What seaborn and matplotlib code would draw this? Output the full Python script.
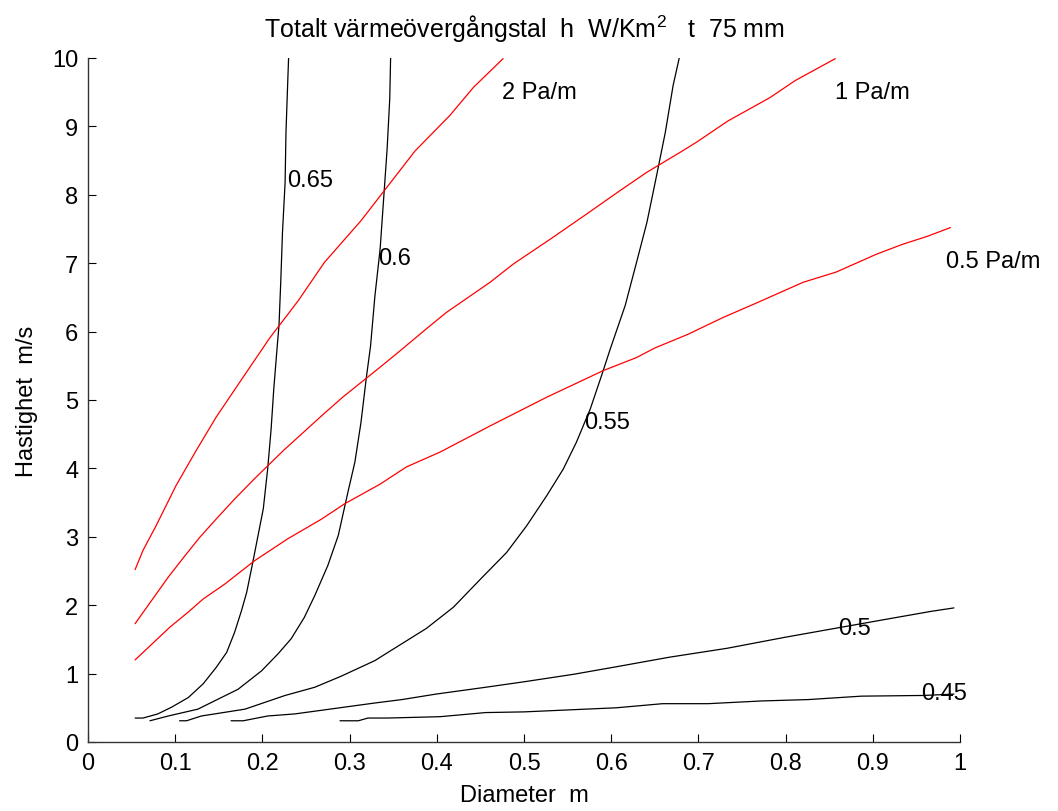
import numpy as np
import pandas as pd
import matplotlib
matplotlib.use("Agg")
import matplotlib.pyplot as plt
import seaborn as sns

# Pressure-drop lines (velocity vs. duct diameter)
d_2pa = [0.054, 0.063, 0.078, 0.101, 0.124, 0.147, 0.174, 0.208, 0.241, 0.271, 0.313, 0.344, 0.375, 0.415, 0.442, 0.476]
v_2pa = [2.52, 2.80, 3.16, 3.75, 4.26, 4.75, 5.26, 5.90, 6.45, 7.01, 7.62, 8.13, 8.64, 9.16, 9.57, 9.99]

d_1pa = [0.054, 0.073, 0.092, 0.111, 0.128, 0.147, 0.168, 0.191, 0.224, 0.268, 0.292, 0.335, 0.358, 0.388,
         0.411, 0.461, 0.488, 0.530, 0.572, 0.610, 0.641, 0.679, 0.698, 0.734, 0.782, 0.811, 0.857]
v_1pa = [1.73, 2.07, 2.41, 2.72, 2.99, 3.26, 3.55, 3.85, 4.26, 4.77, 5.04, 5.48, 5.72, 6.04,
         6.28, 6.72, 6.99, 7.35, 7.72, 8.06, 8.33, 8.62, 8.77, 9.08, 9.42, 9.67, 9.99]

d_05pa = [0.054, 0.094, 0.115, 0.132, 0.157, 0.191, 0.229, 0.268, 0.294, 0.335, 0.365, 0.404, 0.461,
          0.526, 0.591, 0.629, 0.650, 0.688, 0.729, 0.767, 0.820, 0.858, 0.904, 0.935, 0.962, 0.989]
v_05pa = [1.20, 1.68, 1.90, 2.09, 2.31, 2.65, 2.97, 3.26, 3.48, 3.77, 4.02, 4.24, 4.62,
          5.04, 5.43, 5.62, 5.76, 5.96, 6.21, 6.42, 6.72, 6.87, 7.13, 7.28, 7.39, 7.52]

# Iso-lines of the total heat transfer coefficient h
d_h065 = [0.054, 0.063, 0.080, 0.096, 0.115, 0.132, 0.147, 0.159, 0.168, 0.176, 0.182, 0.189, 0.195,
          0.201, 0.206, 0.210, 0.213, 0.217, 0.219, 0.221, 0.223, 0.226, 0.227, 0.229, 0.230]
v_h065 = [0.35, 0.35, 0.41, 0.51, 0.65, 0.85, 1.09, 1.31, 1.60, 1.92, 2.19, 2.63, 3.02,
          3.41, 3.99, 4.58, 5.16, 5.79, 6.09, 6.72, 7.45, 8.18, 8.91, 9.64, 10.0]

d_h060 = [0.071, 0.092, 0.126, 0.145, 0.172, 0.199, 0.218, 0.233, 0.248, 0.260, 0.275, 0.287, 0.298,
          0.306, 0.313, 0.319, 0.324, 0.329, 0.335, 0.339, 0.343, 0.346, 0.347]
v_h060 = [0.31, 0.38, 0.48, 0.60, 0.77, 1.04, 1.29, 1.51, 1.82, 2.14, 2.58, 3.02, 3.65,
          4.09, 4.67, 5.31, 5.79, 6.52, 7.21, 7.94, 8.67, 9.40, 10.0]

d_h055 = [0.105, 0.113, 0.130, 0.180, 0.226, 0.260, 0.290, 0.329, 0.344, 0.388, 0.419, 0.450, 0.480,
          0.503, 0.526, 0.545, 0.560, 0.576, 0.589, 0.599, 0.616, 0.629, 0.641, 0.652, 0.662, 0.671, 0.678]
v_h055 = [0.31, 0.31, 0.38, 0.48, 0.68, 0.80, 0.96, 1.19, 1.31, 1.66, 1.97, 2.38, 2.77,
          3.16, 3.60, 3.99, 4.38, 4.87, 5.36, 5.75, 6.38, 7.01, 7.60, 8.28, 8.91, 9.60, 10.0]

d_h050 = [0.164, 0.178, 0.206, 0.237, 0.283, 0.329, 0.360, 0.399, 0.456, 0.500, 0.557, 0.606, 0.667,
          0.733, 0.799, 0.843, 0.918, 0.967, 0.993]
v_h050 = [0.31, 0.31, 0.38, 0.41, 0.49, 0.57, 0.62, 0.70, 0.80, 0.88, 0.99, 1.10, 1.24,
          1.37, 1.53, 1.63, 1.80, 1.91, 1.96]

d_h045 = [0.289, 0.310, 0.321, 0.344, 0.404, 0.456, 0.500, 0.553, 0.606, 0.659, 0.711, 0.773, 0.826,
          0.887, 0.958, 0.993]
v_h045 = [0.31, 0.31, 0.35, 0.35, 0.37, 0.43, 0.44, 0.47, 0.50, 0.56, 0.56, 0.60, 0.62,
          0.67, 0.68, 0.70]

pressure_names = ["2 Pa/m", "1 Pa/m", "0.5 Pa/m"]
h_names = ["0.65", "0.6", "0.55", "0.5", "0.45"]

x_ticks = [0, 0.1, 0.2, 0.3, 0.4, 0.5, 0.6, 0.7, 0.8, 0.9, 1]
x_tick_labels = ["0", "0.1", "0.2", "0.3", "0.4", "0.5", "0.6", "0.7", "0.8", "0.9", "1"]
y_ticks = list(range(0, 11))

sns.set_style("white")
plt.rcParams["font.family"] = ["Liberation Sans", "DejaVu Sans"]
plt.rcParams["mathtext.default"] = "regular"
plt.rcParams["text.color"] = "black"
plt.rcParams["axes.labelcolor"] = "black"

def frame(name, d, v):
    return pd.DataFrame({"serie": name, "d": d, "v": v, "order": np.arange(len(d))})

pressure_df = pd.concat([frame(n, d, v) for n, d, v in zip(
    pressure_names, [d_2pa, d_1pa, d_05pa], [v_2pa, v_1pa, v_05pa])], ignore_index=True)
h_df = pd.concat([frame(n, d, v) for n, d, v in zip(
    h_names, [d_h065, d_h060, d_h055, d_h050, d_h045],
    [v_h065, v_h060, v_h055, v_h050, v_h045])], ignore_index=True)

fig = plt.figure(figsize=(10.58, 8.12), dpi=100)
ax = fig.add_axes([0.0832, 0.085, 0.8242, 0.8424])

sns.lineplot(data=h_df, x="d", y="v", units="serie", estimator=None, sort=False,
             color="black", lw=0.9, ax=ax, legend=False)
sns.lineplot(data=pressure_df, x="d", y="v", units="serie", estimator=None, sort=False,
             color="#ff0000", lw=0.9, ax=ax, legend=False)

fs = 17
# Iso-line labels
h_label_pos = {"0.65": (0.228, 8.22), "0.6": (0.333, 7.08), "0.55": (0.569, 4.68),
               "0.5": (0.860, 1.66), "0.45": (0.955, 0.72)}
for name, (x, y) in h_label_pos.items():
    ax.text(x, y, name, fontsize=fs, ha="left", va="center", color="black")

p_label_pos = {"2 Pa/m": (0.475, 9.50), "1 Pa/m": (0.857, 9.50), "0.5 Pa/m": (0.984, 7.03)}
for name, (x, y) in p_label_pos.items():
    ax.text(x, y, name, fontsize=fs, ha="left", va="center", color="black", clip_on=False)

ax.set_xlim(0, 1)
ax.set_ylim(0, 10)
ax.set_xticks(x_ticks)
ax.set_xticklabels(x_tick_labels)
ax.set_yticks(y_ticks)
ax.tick_params(direction="in", length=6, width=0.8, labelsize=fs, pad=7,
               colors="black", bottom=True, left=True, top=False, right=False)
sns.despine(ax=ax, top=True, right=True)
for s in ("left", "bottom"):
    ax.spines[s].set_color("#333333")
    ax.spines[s].set_linewidth(1.0)

ax.set_xlabel("Diameter  m", fontsize=fs, color="black")
ax.set_ylabel("Hastighet  m/s", fontsize=fs, color="black")
ax.xaxis.set_label_coords(0.5, -0.062)
ax.yaxis.set_label_coords(-0.057, 0.5)
ax.set_title("Totalt värmeövergångstal  h  W/Km$^{2}$   t  75 mm", fontsize=18, pad=15, color="black")

fig.savefig("out.png", dpi=100, facecolor="white")
